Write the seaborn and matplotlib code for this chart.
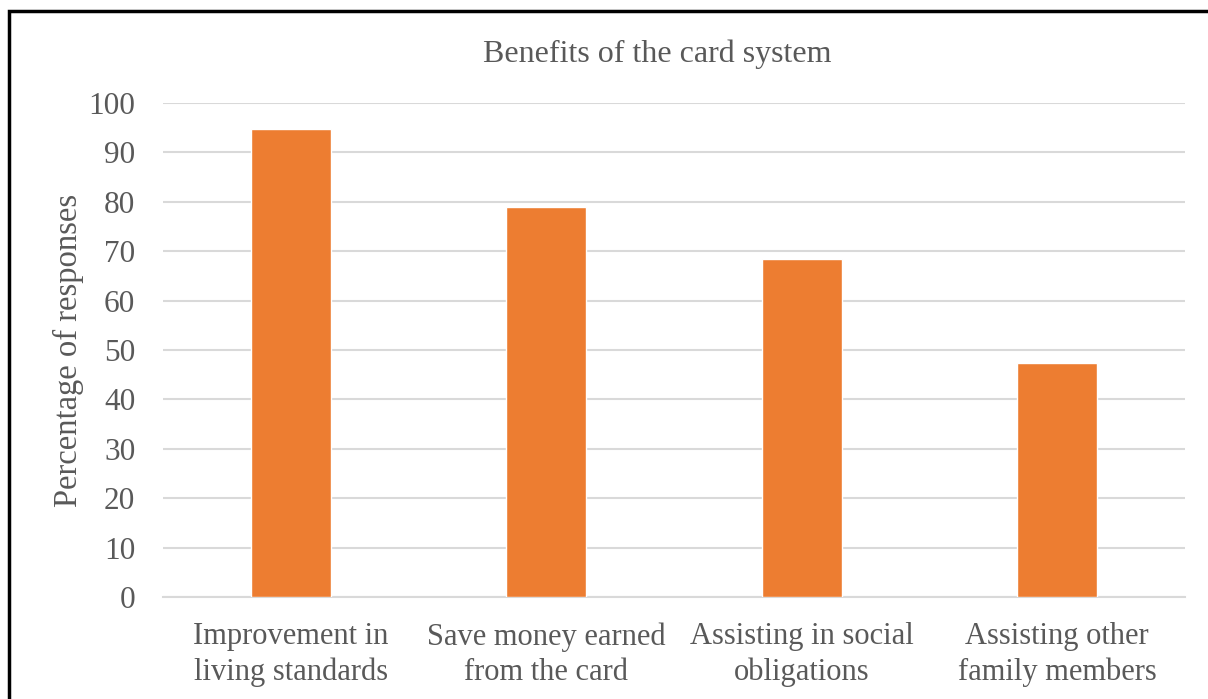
import matplotlib
matplotlib.use("Agg")
import matplotlib.pyplot as plt
import seaborn as sns
import pandas as pd
from matplotlib.patches import Rectangle

categories = ["Improvement in\nliving standards", "Save money earned\nfrom the card",
              "Assisting in social\nobligations", "Assisting other\nfamily members"]
values = [94.8, 78.9, 68.4, 47.4]
yticks = [0, 10, 20, 30, 40, 50, 60, 70, 80, 90, 100]

sns.set_theme(style="white")
plt.rcParams['font.family'] = ['Liberation Serif', 'DejaVu Serif']

df = pd.DataFrame({"cat": categories, "val": values})
fig = plt.figure(figsize=(12.08, 6.99), dpi=100)
ax = fig.add_axes([163/1208, 1 - 597/699, (1185-163)/1208, (597-103)/699])

sns.barplot(data=df, x="cat", y="val", color="#ED7D31", width=0.313, ax=ax,
            saturation=1, zorder=3)
ax.set_ylim(0, 100)
ax.set_xlim(-0.5, 3.5)
ax.set_yticks(yticks)
ax.set_yticklabels([str(t) for t in yticks])
ax.grid(axis="y", color="#D9D9D9", linewidth=1.5, zorder=0)
for s in ["top", "right", "left"]:
    ax.spines[s].set_visible(False)
ax.spines["bottom"].set_color("#D9D9D9")
ax.spines["bottom"].set_linewidth(1.5)
ax.tick_params(axis="both", length=0, colors="#595959")
ax.tick_params(axis="y", pad=20, labelsize=22.5)
ax.tick_params(axis="x", pad=18, labelsize=22)
for lbl in ax.get_xticklabels():
    lbl.set_linespacing(1.3)
ax.set_xlabel("")
ax.set_ylabel("Percentage of responses", fontsize=23.5, color="#595959", labelpad=3)
fig.text(0.544, 1 - 54/699, "Benefits of the card system", fontsize=23, color="#595959",
         ha="center", va="center")

fig.patches.append(Rectangle((9/1208, -0.1), 1.2, 1 - 11/699 + 0.1, transform=fig.transFigure,
                             fill=False, edgecolor="black", linewidth=2.5))
fig.savefig("out.png", dpi=100)
